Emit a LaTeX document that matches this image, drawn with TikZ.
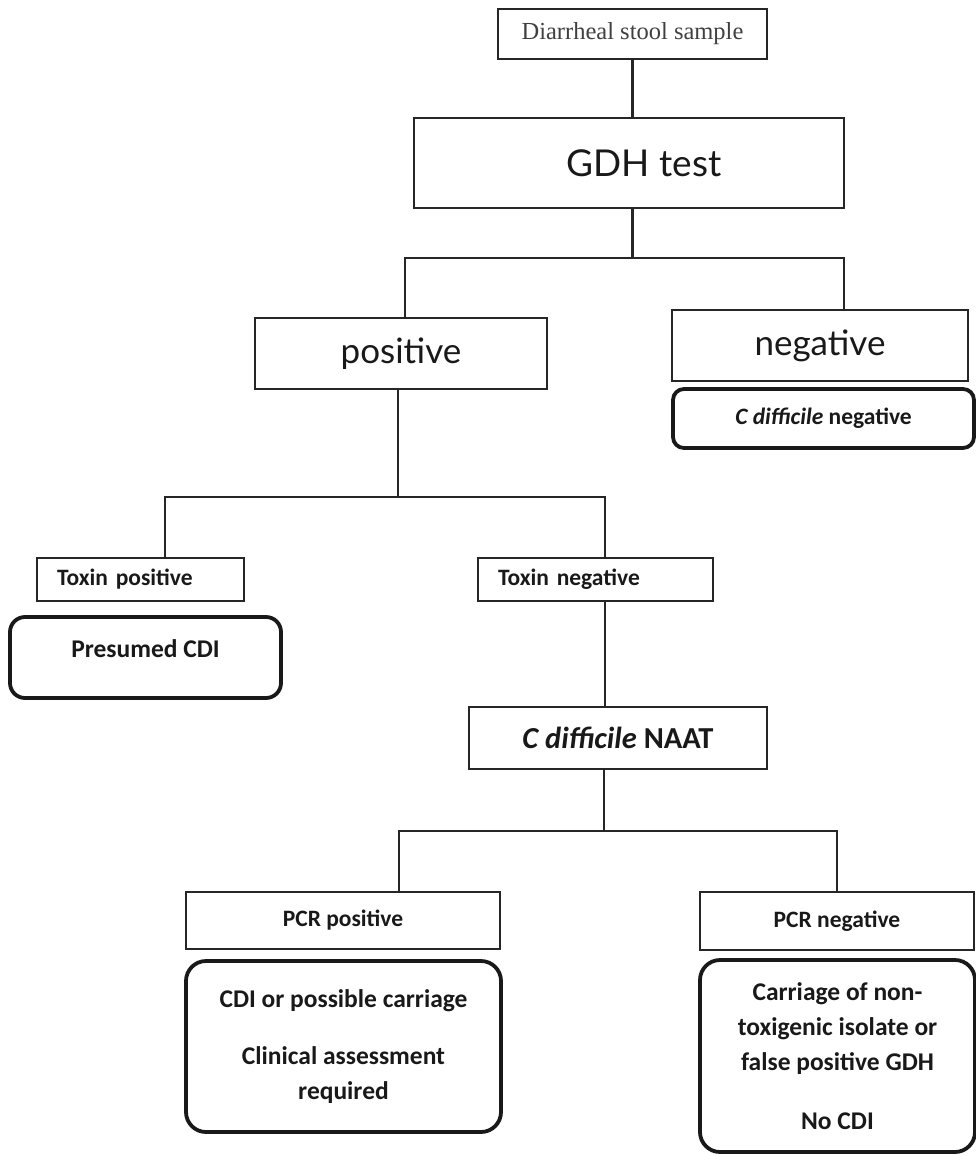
\documentclass[tikz,border=0pt]{standalone}
\usepackage{fontspec}
\setmainfont{Liberation Serif}
\newfontfamily\gillfont{Lato}
\newfontfamily\califont{Carlito}
\usepackage{tikz}

\begin{document}
\begin{tikzpicture}[x=1pt, y=-1pt,
  box/.style={draw=black!85, line width=2.6pt, inner sep=0pt, align=center, text=black!90},
  bigbox/.style={box, font=\gillfont\fontsize{35}{40}\selectfont},
  tag/.style={box, align=left, inner xsep=20pt, font=\califont\bfseries\fontsize{23.5}{26}\selectfont},
  result/.style={draw=black!90, line width=3.8pt, rounded corners=#1, inner sep=0pt, align=center,
    text=black!90, font=\califont\bfseries\fontsize{25.5}{35}\selectfont},
  result/.default=20pt,
  link/.style={draw=black!85, line width=2.2pt},
]
\useasboundingbox (0,0) rectangle (976,1156);
\node[box, minimum width=269, minimum height=50, text=black!75, font=\fontsize{24.5}{26}\selectfont] (sample) at (632.5,34) {Diarrheal stool sample};
\node[box, minimum width=430, minimum height=90, font=\gillfont\fontsize{37}{40}\selectfont] (gdh) at (629,163) {\hspace*{30pt}GDH test};
\node[bigbox, minimum width=292, minimum height=71] (pos) at (401,353.5) {positive};
\node[bigbox, minimum width=296, minimum height=71] (neg) at (820,345.5) {negative};
\node[result=11pt, minimum width=301, minimum height=59, font=\califont\bfseries\fontsize{23.5}{26}\selectfont] (cneg) at (823.5,418.5) {\textit{C difficile} negative};
% toxin assay
\node[tag, text width=167, minimum height=43] (toxpos) at (140.5,579.5) {Toxin positive};
\node[tag, text width=195, minimum height=43] (toxneg) at (595.5,579.5) {Toxin negative};
\node[result=15pt, minimum width=271, minimum height=81, text height=20pt, text depth=20pt, font=\califont\bfseries\fontsize{25.5}{30}\selectfont] (cdi) at (145.5,657.5) {Presumed CDI};
\node[box, minimum width=298, minimum height=62, font=\califont\bfseries\fontsize{30.5}{34}\selectfont] (naat) at (618,738) {\textit{C difficile} NAAT};
% PCR
\node[box, minimum width=314, minimum height=57, font=\califont\bfseries\fontsize{23.5}{26}\selectfont] (pcrpos) at (343,920.5) {PCR positive};
\node[box, minimum width=274, minimum height=58, font=\califont\bfseries\fontsize{23.5}{26}\selectfont] (pcrneg) at (837,921) {PCR negative};
\node[result, minimum width=315, minimum height=171] (carriage) at (343.5,1046.5) {CDI or possible carriage\\[22pt]Clinical assessment\\required};
\node[result, minimum width=275, minimum height=192] (nocdi) at (837.5,1056) {Carriage of non-\\toxigenic isolate or\\false positive GDH\\[24pt]No CDI};
% connectors
\draw[link] (sample.south) -- (sample.south |- gdh.north);
\draw[link] (gdh.south -| sample.south) -- ++(0,49) coordinate (fork1);
\draw[link] ([xshift=4pt]pos.north) |- (fork1) -| ([xshift=24pt]neg.north);
\draw[link] ([xshift=-3pt]pos.south) -- ++(0,107) coordinate (fork2);
\draw[link] ([xshift=24.5pt]toxpos.north) |- (fork2) -| ([xshift=9.5pt]toxneg.north);
\draw[link] ([xshift=9.5pt]toxneg.south) -- ([xshift=9.5pt]toxneg.south |- naat.north);
\draw[link] ([xshift=-14pt]naat.south) -- ++(0,61) coordinate (fork3);
\draw[link] ([xshift=56pt]pcrpos.north) |- (fork3) -| (pcrneg.north);
\end{tikzpicture}
\end{document}
